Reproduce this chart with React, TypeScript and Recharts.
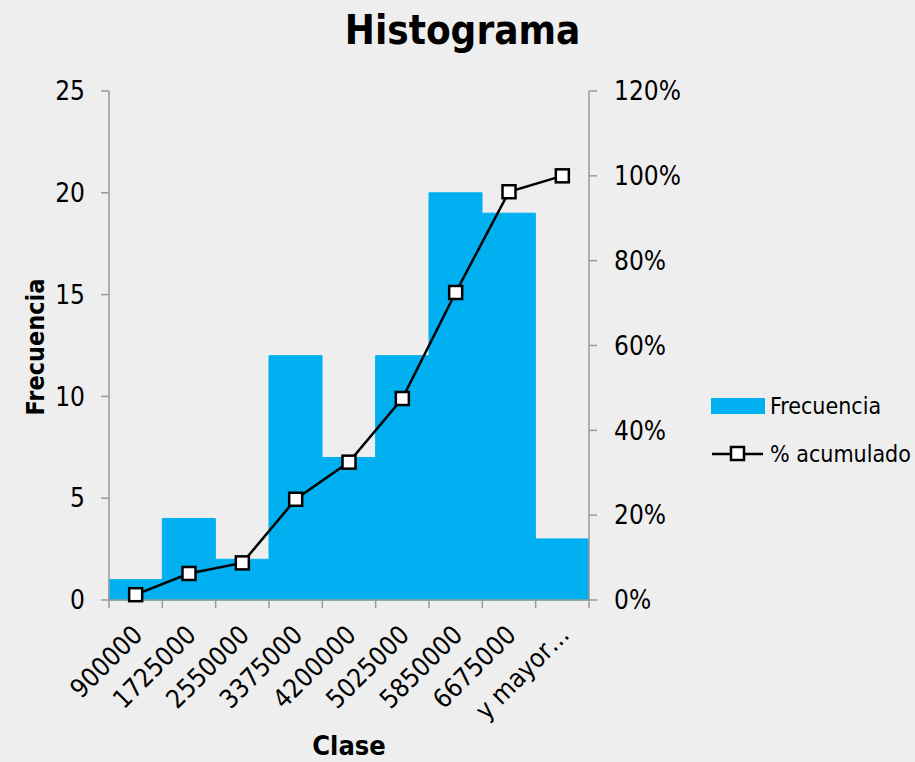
import React from 'react';
import { ComposedChart, Bar, Line, XAxis, YAxis, Legend, Label } from 'recharts';

const categories = ['900000', '1725000', '2550000', '3375000', '4200000', '5025000', '5850000', '6675000', 'y mayor…'];
const frequencies = [1, 4, 2, 12, 7, 12, 20, 19, 3];
const cumulativePct = [0.0125, 0.0625, 0.0875, 0.2375, 0.325, 0.475, 0.725, 0.9625, 1.0];
const leftTicks = [0, 5, 10, 15, 20, 25];
const rightTicks = [0, 0.2, 0.4, 0.6, 0.8, 1.0, 1.2];

const data = categories.map((c, i) => ({ clase: c, freq: frequencies[i], pct: cumulativePct[i] }));

const W = 915;
const H = 762;
const PLOT_LEFT = 109;
const PLOT_RIGHT = 589;
const BAND = (PLOT_RIGHT - PLOT_LEFT) / categories.length;
const FONT = "'DejaVu Sans Condensed', 'DejaVu Sans', sans-serif";
const AXIS = '#9a9a9a';
const BG = '#eeeeee';
const BAR = '#00b0f0';

const XTick = (props: any) => {
  const { x, y, payload, index } = props;
  const lx = x + 2;
  const ly = y + 30;
  return (
    <g>
      <line x1={x - BAND / 2} x2={x - BAND / 2} y1={y} y2={y + 8} stroke={AXIS} strokeWidth={1.5} />
      {index === categories.length - 1 && (
        <line x1={x + BAND / 2} x2={x + BAND / 2} y1={y} y2={y + 8} stroke={AXIS} strokeWidth={1.5} />
      )}
      <text
        x={lx}
        y={ly}
        transform={`rotate(-45 ${lx} ${ly})`}
        textAnchor="end"
        dy="0.35em"
        fontSize={26}
        fontFamily={FONT}
        fill="#000"
      >
        {payload.value}
      </text>
    </g>
  );
};

const SquareDot = (props: any) => {
  const { cx, cy } = props;
  if (cx == null || cy == null) return null;
  const s = 13;
  return <rect x={cx - s / 2} y={cy - s / 2} width={s} height={s} fill="#fff" stroke="#000" strokeWidth={2.5} />;
};

const LegendContent = () => (
  <svg width={215} height={90}>
    <rect x={11} y={13} width={54} height={16} fill={BAR} />
    <text x={70} y={21} dy="0.35em" fontSize={23} fontFamily={FONT} fill="#000">Frecuencia</text>
    <line x1={12} x2={63} y1={69} y2={69} stroke="#000" strokeWidth={2.5} />
    <rect x={31} y={62} width={13} height={13} fill="#fff" stroke="#000" strokeWidth={2.5} />
    <text x={70} y={69} dy="0.35em" fontSize={23} fontFamily={FONT} fill="#000">% acumulado</text>
  </svg>
);

export default function App() {
  return (
    <div style={{ position: 'absolute', left: 0, top: 0, width: W, height: H, background: BG, fontFamily: FONT }}>
      <div
        style={{
          position: 'absolute',
          left: 0,
          top: 8,
          width: 925,
          textAlign: 'center',
          fontSize: 40,
          fontWeight: 'bold',
          fontFamily: FONT,
          color: '#000',
          lineHeight: '44px',
        }}
      >
        Histograma
      </div>
      <ComposedChart
        width={W}
        height={H}
        data={data}
        margin={{ top: 91, right: 226, bottom: 102, left: 49 }}
        barCategoryGap={0}
        barGap={0}
      >
        <XAxis
          dataKey="clase"
          xAxisId="x"
          height={60}
          interval={0}
          tickLine={false}
          tickSize={0}
          tickMargin={0}
          axisLine={{ stroke: AXIS, strokeWidth: 1.5 }}
          tick={<XTick />}
        >
          <Label
            content={() => (
              <text x={349} y={746} textAnchor="middle" dy="0.35em" fontSize={27} fontWeight="bold" fontFamily={FONT} fill="#000">
                Clase
              </text>
            )}
          />
        </XAxis>
        <YAxis
          yAxisId="left"
          orientation="left"
          width={60}
          domain={[0, 25]}
          ticks={leftTicks}
          interval={0}
          tickSize={8}
          tickMargin={16}
          tickLine={{ stroke: AXIS, strokeWidth: 1.5 }}
          axisLine={{ stroke: AXIS, strokeWidth: 1.5 }}
          tick={{ fill: '#000', fontSize: 26, fontFamily: FONT }}
        >
          <Label
            content={() => (
              <text
                x={35}
                y={347}
                transform="rotate(-90 35 347)"
                textAnchor="middle"
                dy="0.35em"
                fontSize={25}
                fontWeight="bold"
                fontFamily={FONT}
                fill="#000"
              >
                Frecuencia
              </text>
            )}
          />
        </YAxis>
        <YAxis
          yAxisId="right"
          orientation="right"
          width={100}
          domain={[0, 1.2]}
          ticks={rightTicks}
          interval={0}
          tickSize={8}
          tickMargin={17}
          tickFormatter={(v: number) => `${Math.round(v * 100)}%`}
          tickLine={{ stroke: AXIS, strokeWidth: 1.5 }}
          axisLine={{ stroke: AXIS, strokeWidth: 1.5 }}
          tick={{ fill: '#000', fontSize: 26, fontFamily: FONT, textAnchor: 'start' }}
        />
        <Bar
          xAxisId="x"
          yAxisId="left"
          dataKey="freq"
          name="Frecuencia"
          fill={BAR}
          stroke={BAR}
          strokeWidth={1}
          isAnimationActive={false}
        />
        <Line
          xAxisId="x"
          yAxisId="right"
          dataKey="pct"
          name="% acumulado"
          stroke="#000"
          strokeWidth={2.5}
          dot={<SquareDot />}
          activeDot={false}
          isAnimationActive={false}
        />
        <Legend
          layout="horizontal"
          verticalAlign="middle"
          align="center"
          content={<LegendContent />}
          wrapperStyle={{ left: 700, top: 385, width: 215, height: 90 }}
        />
      </ComposedChart>
    </div>
  );
}
